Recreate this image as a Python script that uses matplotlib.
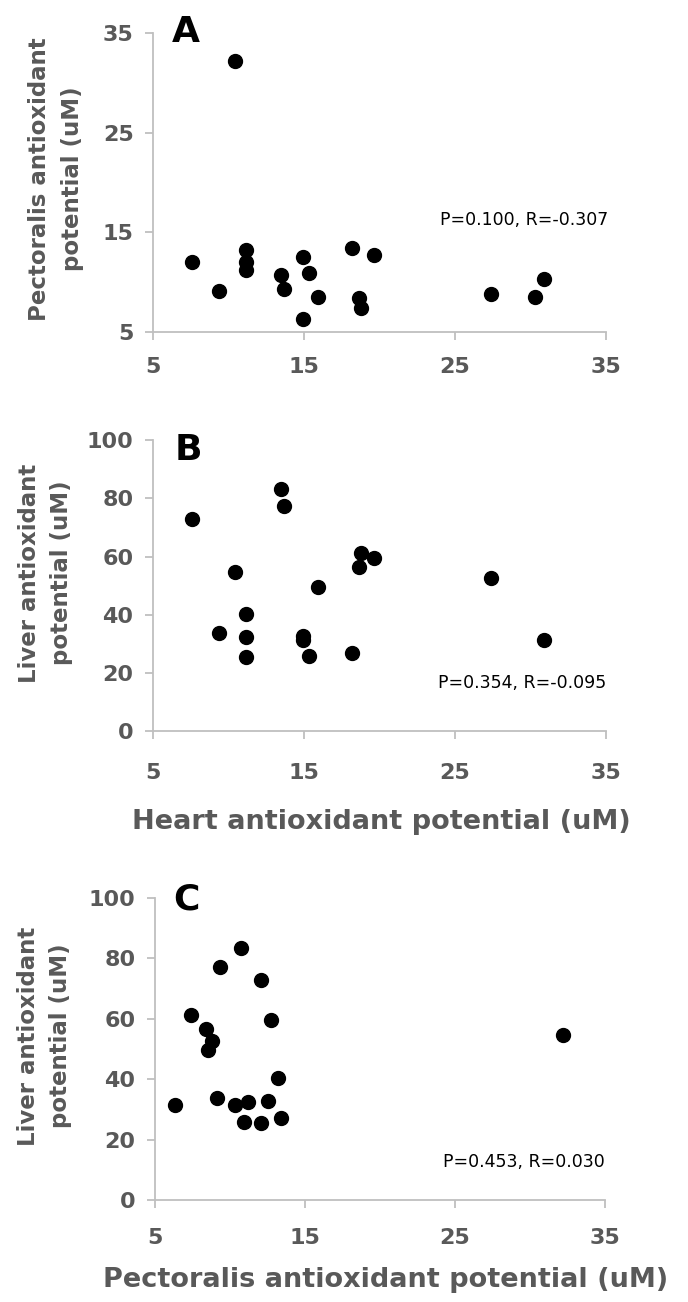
import numpy as np
import matplotlib
matplotlib.use("Agg")
import matplotlib.pyplot as plt

# one value per bird; the one with no liver sample is nan
heart = [7.6, 9.35, 10.45, 11.15, 11.15, 11.15, 13.5, 13.7, 14.95, 14.92,
         15.3, 15.95, 18.2, 19.65, 18.65, 18.8, 27.37, 30.3, 30.9]
pectoralis = [12.05, 9.15, 32.2, 13.2, 12.05, 11.2, 10.7, 9.35, 12.55, 6.35,
              10.95, 8.55, 13.4, 12.7, 8.4, 7.4, 8.8, 8.55, 10.3]
liver = [73.0, 33.8, 54.7, 40.4, 25.6, 32.5, 83.3, 77.3, 32.8, 31.4,
         25.8, 49.6, 27.0, 59.6, 56.5, 61.3, 52.5, np.nan, 31.5]

x_ticks = [5, 15, 25, 35]
pect_ticks = [5, 15, 25, 35]
liver_ticks = [0, 20, 40, 60, 80, 100]

stats = ["P=0.100, R=-0.307", "P=0.354, R=-0.095", "P=0.453, R=0.030"]

W, H = 688, 1302
GREY = "#595959"
LINE = "#bfbfbf"

plt.rcParams["font.family"] = ["DejaVu Sans"]

fig = plt.figure(figsize=(W / 100, H / 100), dpi=100)


def box(l, t, r, b):
    return [l / W, 1 - b / H, (r - l) / W, (b - t) / H]


def ftext(px, py, s, **kw):
    fig.text(px / W, 1 - py / H, s, **kw)


def panel(rect, x, y, ylim, yticks, xpad):
    ax = fig.add_axes(rect)
    ax.scatter(x, y, s=100, color="black", zorder=3, clip_on=False)
    ax.set_xlim(5, 35)
    ax.set_ylim(*ylim)
    ax.set_xticks(x_ticks)
    ax.set_yticks(yticks)
    for side in ("top", "right"):
        ax.spines[side].set_visible(False)
    for side in ("left", "bottom"):
        ax.spines[side].set_color(LINE)
        ax.spines[side].set_linewidth(1.3)
    ax.tick_params(axis="both", colors=LINE, width=1.3, length=6,
                   labelcolor=GREY, labelsize=16)
    ax.tick_params(axis="y", pad=8)
    ax.tick_params(axis="x", pad=xpad)
    for lab in ax.get_xticklabels() + ax.get_yticklabels():
        lab.set_fontweight("bold")
    return ax


axA = panel(box(153, 33, 606, 332), heart, pectoralis, (5, 35), pect_ticks, 12)
axA.text(24.0, 16.2, stats[0], fontsize=12.5, color="black", va="center")

axB = panel(box(153, 440, 606, 731.5), heart, liver, (0, 100), liver_ticks, 17)
axB.text(23.9, 16.6, stats[1], fontsize=12.5, color="black", va="center")

axC = panel(box(155, 898, 605, 1200), pectoralis, liver, (0, 100), liver_ticks, 14)
axC.text(24.2, 12.6, stats[2], fontsize=12.5, color="black", va="center")

# panel letters
ftext(172, 42, "A", fontsize=26, fontweight="bold", color="black", va="baseline")
ftext(175, 460, "B", fontsize=26, fontweight="bold", color="black", va="baseline")
ftext(173, 909, "C", fontsize=26, fontweight="bold", color="black", va="baseline")

# axis titles
ylab = dict(fontsize=16.5, fontweight="bold", color=GREY, rotation=90,
            ha="center", va="center", multialignment="center", linespacing=1.5)
ftext(56, 179, "Pectoralis antioxidant\npotential (uM)", **ylab)
ftext(46, 573, "Liver antioxidant\npotential (uM)", **ylab)
ftext(45, 1036, "Liver antioxidant\npotential (uM)", **ylab)

xlab = dict(fontsize=19.5, fontweight="bold", color=GREY, ha="center", va="center")
ftext(381, 822, "Heart antioxidant potential (uM)", **xlab)
ftext(386, 1280, "Pectoralis antioxidant potential (uM)", **xlab)

fig.savefig("out.png", dpi=100)
